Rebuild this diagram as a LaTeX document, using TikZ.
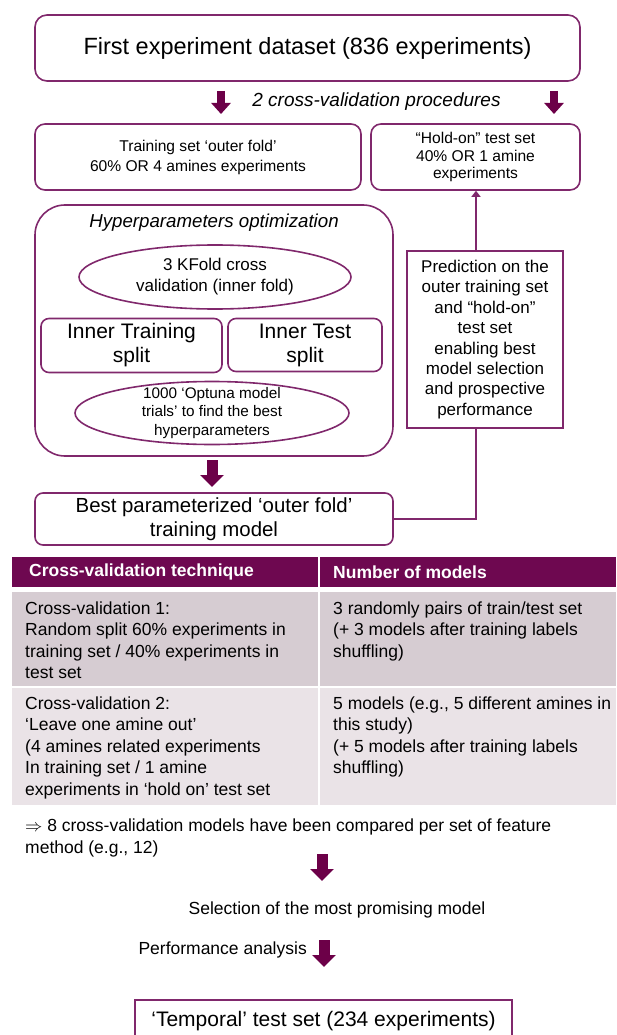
\documentclass[tikz,border=0pt]{standalone}
\usepackage{fontspec}
\setmainfont{Liberation Sans}
\usepackage{tikz}
\usetikzlibrary{arrows.meta,shapes,positioning,calc}

\definecolor{cvframe}{RGB}{128,40,108}
\definecolor{cvdark}{RGB}{108,0,72}
\definecolor{cvhead}{RGB}{110,8,80}
\definecolor{cvrowa}{RGB}{214,204,210}
\definecolor{cvrowb}{RGB}{234,227,231}

\begin{document}
\begin{tikzpicture}[x=1pt,y=-1pt,
    box/.style={draw=cvframe, line width=1.6pt, rounded corners=#1,
      align=center, inner sep=0pt},
    box/.default=10pt,
    oval/.style={ellipse, draw=cvframe, line width=1.6pt, inner sep=0pt},
    fatarrow/.style={cvdark, line width=8pt, -{Triangle[width=19pt,length=11pt]}},
    bigarrow/.style={cvdark, line width=11pt, -{Triangle[width=23pt,length=12pt]}},
    link/.style={cvframe, line width=2.8pt},
    cell/.style={anchor=north west, align=left, inner sep=0pt,
      font=\fontsize{17.5}{21.5}\selectfont}]
  \useasboundingbox (0,0) rectangle (616,1035);

  % dataset and the two splits
  \node[box=12pt, minimum width=545, minimum height=66,
    font=\fontsize{23.5}{28}\selectfont] (dataset) at (307.5,48)
    {First experiment dataset (836 experiments)};
  \coordinate (splitL) at (221,91);
  \coordinate (splitR) at (554,91);
  \draw[fatarrow] (splitL) -- ++(0,23);
  \draw[fatarrow] (splitR) -- ++(0,23);
  \node[font=\itshape\fontsize{19}{23}\selectfont] (procs) at (376.5,102)
    {2 cross-validation procedures};
  \node[box, minimum width=326, minimum height=66,
    font=\fontsize{15.6}{20}\selectfont] (outer) at (198,157)
    {Training set ‘outer fold’\\60\% OR 4 amines experiments};
  \node[box, minimum width=209, minimum height=66,
    font=\fontsize{15.6}{17.5}\selectfont] (holdon) at (475.5,157)
    {“Hold-on” test set\\40\% OR 1 amine\\experiments};

  % inner optimisation loop
  \node[box=30pt, minimum width=358, minimum height=251] (hyper) at (214,330.5) {};
  \node[font=\itshape\fontsize{18.7}{22}\selectfont] (hypertitle) at (214,223)
    {Hyperparameters optimization};
  \node[oval, minimum width=272, minimum height=64,
    label={[align=center, font=\fontsize{17}{21}\selectfont]center:{3 KFold cross\\validation (inner fold)}}]
    (kfold) at (215,277) {};
  \node[box=8pt, minimum width=181, minimum height=54,
    font=\fontsize{21}{24}\selectfont] (intrain) at (131.5,345.5) {Inner Training\\split};
  \node[box=8pt, minimum width=154, minimum height=53,
    font=\fontsize{21}{24}\selectfont] (intest) at (305,345) {Inner Test\\split};
  \node[oval, minimum width=274, minimum height=63,
    label={[align=center, font=\fontsize{15.3}{18.5}\selectfont]center:{1000 ‘Optuna model\\trials’ to find the best\\hyperparameters}}]
    (optuna) at (212,413) {};
  \coordinate (tuned) at (212,460);
  \draw[bigarrow] (tuned) -- ++(0,27);
  \node[box=8pt, minimum width=358, minimum height=52,
    font=\fontsize{20.4}{24.5}\selectfont] (best) at (214,519)
    {Best parameterized ‘outer fold’\\training model};

  % prediction feedback
  \node[draw=cvframe, line width=1.6pt, minimum width=156, minimum height=177,
    inner sep=0pt, align=center, font=\fontsize{17}{20.4}\selectfont] (predict) at (485,339.5)
    {Prediction on the\\outer training set\\and “hold-on”\\test set\\enabling best\\model selection\\and prospective\\performance};
  \draw[link] (best.east) -| ([xshift=-9pt]predict.south);
  \draw[link, -{Triangle[width=9pt,length=6pt]}] ([xshift=-9pt]predict.north)
    -- ([xshift=-9pt]predict.north |- holdon.south);

  % comparison table
  \foreach \ya/\yb/\c in {557/587/cvhead, 592/686/cvrowa, 688/805/cvrowb} {
    \fill[\c] (12,\ya) rectangle (318,\yb);
    \fill[\c] (320,\ya) rectangle (616,\yb);
  }
  \node[cell, anchor=west, text=white, font=\bfseries\fontsize{17.5}{21}\selectfont]
    (headL) at (29,572) {Cross-validation technique};
  \node[cell, anchor=west, text=white, font=\bfseries\fontsize{17.5}{21}\selectfont]
    (headR) at (333,572) {Number of models};
  \node[cell] (techA) at (25,601.5) {Cross-validation 1:\\Random split 60\% experiments in\\training set / 40\% experiments in\\test set};
  \node[cell] (countA) at (333,601.5) {3 randomly pairs of train/test set\\(+ 3 models after training labels\\shuffling)};
  \node[cell] (techB) at (25,696.5) {Cross-validation 2:\\‘Leave one amine out’\\(4 amines related experiments\\In training set / 1 amine\\experiments in ‘hold on’ test set};
  \node[cell] (countB) at (333,696.5) {5 models (e.g., 5 different amines in\\this study)\\(+ 5 models after training labels\\shuffling)};

  % selection and temporal test
  \node[cell] (summary) at (25,819) {$\Rightarrow$ 8 cross-validation models have been compared per set of feature\\method (e.g., 12)};
  \coordinate (pick) at (322,854);
  \draw[bigarrow] (pick) -- ++(0,27);
  \node[font=\fontsize{17.5}{21}\selectfont] (select) at (337,910)
    {Selection of the most promising model};
  \node[font=\fontsize{17.5}{21}\selectfont, anchor=west] (perf) at (135,950)
    {Performance analysis};
  \coordinate (assess) at (324,940);
  \draw[bigarrow] (assess) -- ++(0,27);
  \node[draw=cvframe, line width=1.6pt, minimum width=377, minimum height=42,
    font=\fontsize{21}{25}\selectfont] (temporal) at (323.5,1021)
    {‘Temporal’ test set (234 experiments)};
\end{tikzpicture}
\end{document}
